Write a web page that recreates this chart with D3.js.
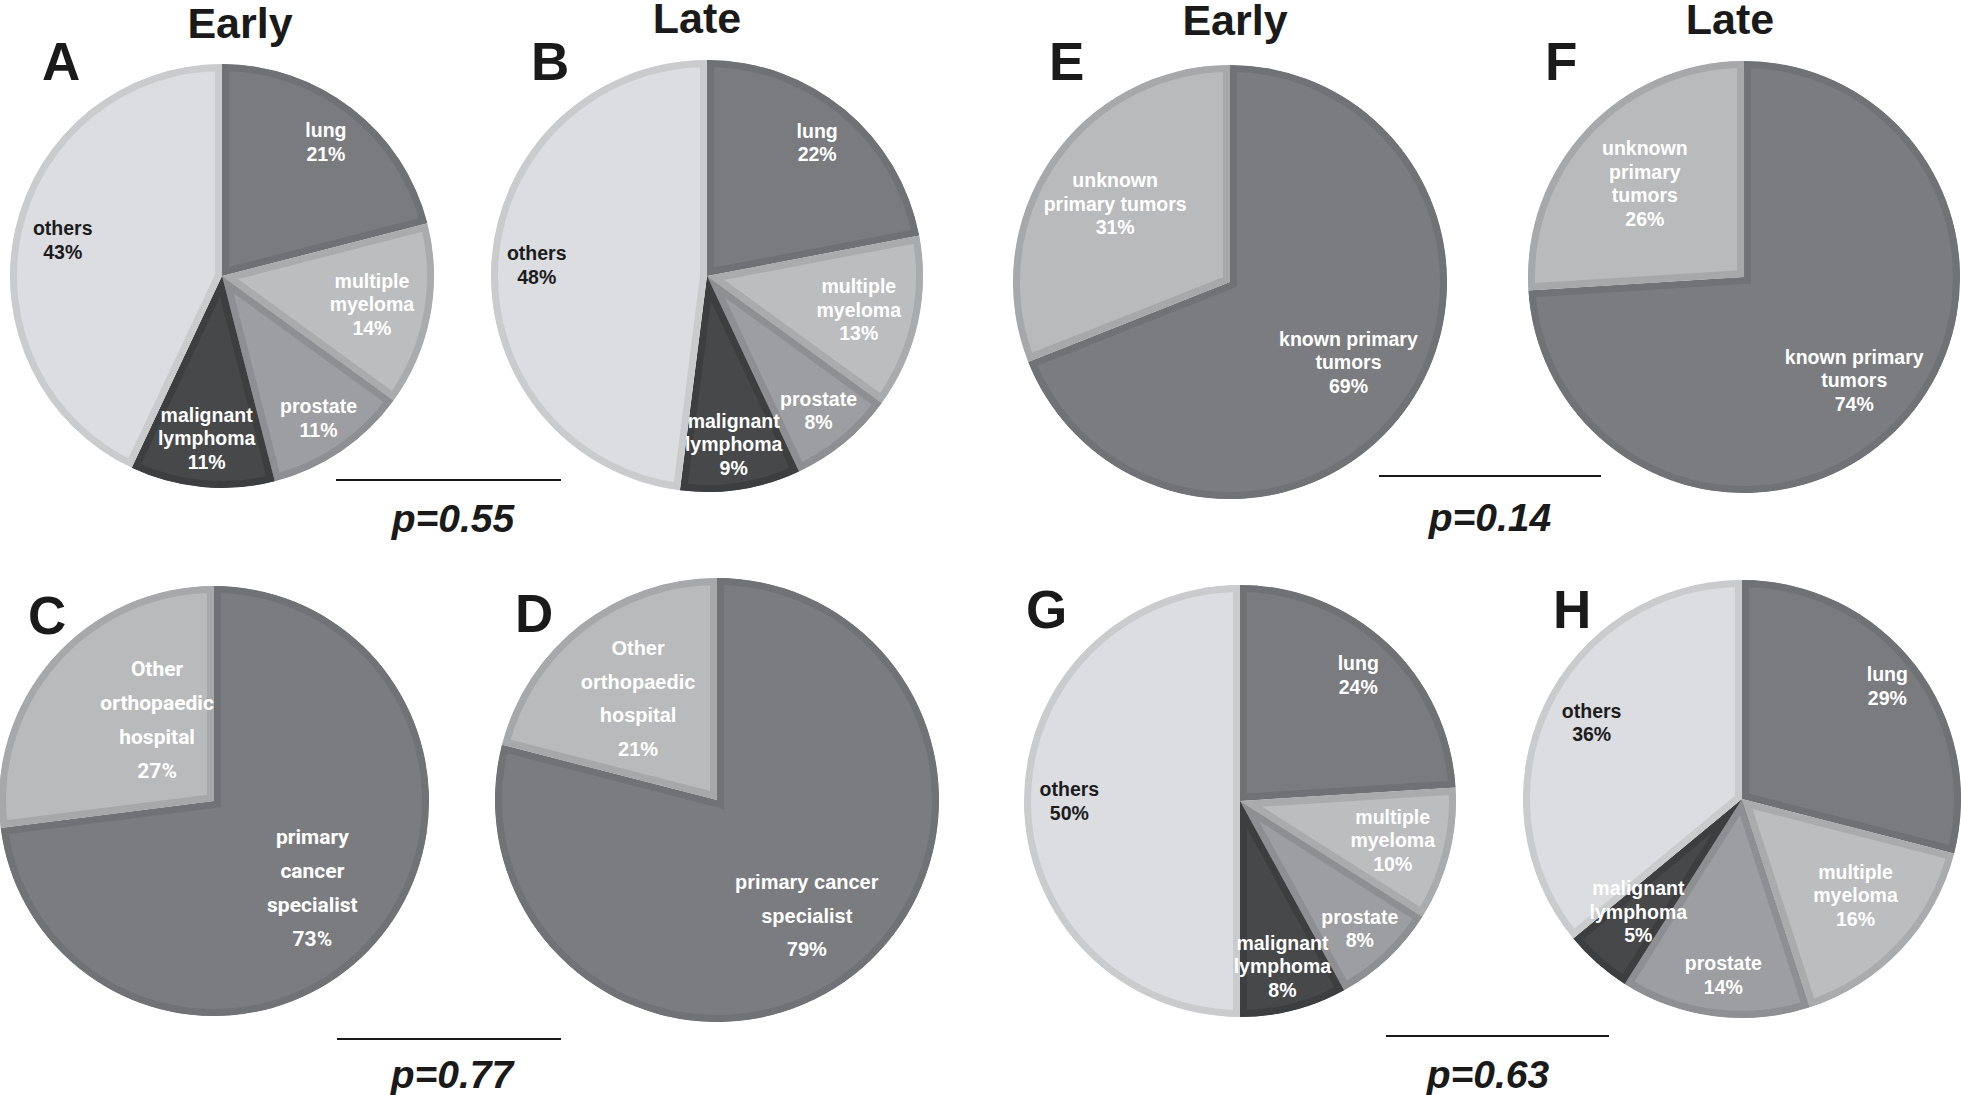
<!DOCTYPE html>
<html>
<head>
<meta charset="utf-8">
<script src="https://cdn.jsdelivr.net/npm/d3@7"></script>
<style>
  html, body { margin: 0; padding: 0; background: #ffffff; }
  svg { display: block; }
</style>
</head>
<body>
<svg id="chart" width="1961" height="1095"></svg>
<script>
// ---------------- DATA ----------------
const siteCategories = ["lung", "multiple myeloma", "prostate", "malignant lymphoma", "others"];
const siteEarlyA = [21, 14, 11, 11, 43];
const siteLateB  = [22, 13, 8, 9, 48];
const siteEarlyG = [24, 10, 8, 8, 50];
const siteLateH  = [29, 16, 14, 5, 36];

const referralCategories = ["primary cancer specialist", "Other orthopaedic hospital"];
const referralEarlyC = [73, 27];
const referralLateD  = [79, 21];

const primaryCategories = ["known primary tumors", "unknown primary tumors"];
const primaryEarlyE = [69, 31];
const primaryLateF  = [74, 26];

const groupTitles = ["Early", "Late", "Early", "Late"];
const panelLetters = ["A", "B", "C", "D", "E", "F", "G", "H"];
const pValues = ["p=0.55", "p=0.77", "p=0.14", "p=0.63"];

// ---------------- STYLE / LAYOUT ----------------
const fills = {
  "lung": ["#7a7b7f", "#707175"],
  "multiple myeloma": ["#bcbdbf", "#aaabad"],
  "prostate": ["#9d9ea1", "#8e8f92"],
  "malignant lymphoma": ["#47484a", "#3d3e40"],
  "others": ["#dcdde0", "#cacbcd"],
  "known primary tumors": ["#7b7c80", "#717276"],
  "unknown primary tumors": ["#b9babc", "#a7a8aa"],
  "primary cancer specialist": ["#7b7c80", "#717276"],
  "Other orthopaedic hospital": ["#b9babc", "#a7a8aa"]
};
const darkText = { "others": true };

const siteWrap = {
  "lung": ["lung"], "multiple myeloma": ["multiple", "myeloma"], "prostate": ["prostate"],
  "malignant lymphoma": ["malignant", "lymphoma"], "others": ["others"]
};

const panels = [
  { letter: panelLetters[0], cats: siteCategories, vals: siteEarlyA, cx: 222, cy: 276, r: 212,
    lf: [0.80, 0.72, 0.81, 0.77, 0.77], wrap: siteWrap, font: "Liberation Sans", fs: 19.5, lh: 23.5,
    lx: 42, ly: 80 },
  { letter: panelLetters[1], cats: siteCategories, vals: siteLateB, cx: 707, cy: 276, r: 216,
    lf: [0.80, 0.72, 0.81, 0.79, 0.79], wrap: siteWrap, font: "Liberation Sans", fs: 19.5, lh: 23.5,
    lx: 531, ly: 80 },
  { letter: panelLetters[2], cats: referralCategories, vals: referralEarlyC, cx: 214, cy: 801, r: 215,
    lf: [0.61, 0.46], wrap: { "primary cancer specialist": ["primary", "cancer", "specialist"],
      "Other orthopaedic hospital": ["Other", "orthopaedic", "hospital"] },
    font: "Roboto", fs: 21, lh: 34, lx: 28, ly: 634, angOff: [0, 0.235] },
  { letter: panelLetters[3], cats: referralCategories, vals: referralLateD, cx: 717, cy: 800, r: 222,
    lf: [0.66, 0.58], wrap: { "primary cancer specialist": ["primary cancer", "specialist"],
      "Other orthopaedic hospital": ["Other", "orthopaedic", "hospital"] },
    font: "Liberation Sans", fs: 20, lh: 33.5, lx: 515, ly: 632 },
  { letter: panelLetters[4], cats: primaryCategories, vals: primaryEarlyE, cx: 1230, cy: 282, r: 217,
    lf: [0.66, 0.64], wrap: { "known primary tumors": ["known primary", "tumors"],
      "unknown primary tumors": ["unknown", "primary tumors"] },
    font: "Liberation Sans", fs: 19.5, lh: 23.5, lx: 1049, ly: 80 },
  { letter: panelLetters[5], cats: primaryCategories, vals: primaryLateF, cx: 1744, cy: 277, r: 216,
    lf: [0.70, 0.63], wrap: { "known primary tumors": ["known primary", "tumors"],
      "unknown primary tumors": ["unknown", "primary", "tumors"] },
    font: "Liberation Sans", fs: 19.5, lh: 23.5, lx: 1545, ly: 80 },
  { letter: panelLetters[6], cats: siteCategories, vals: siteEarlyG, cx: 1240, cy: 801, r: 216,
    lf: [0.80, 0.73, 0.81, 0.79, 0.79], wrap: siteWrap, font: "Liberation Sans", fs: 19.5, lh: 23.5,
    lx: 1026, ly: 628 },
  { letter: panelLetters[7], cats: siteCategories, vals: siteLateH, cx: 1742, cy: 799, r: 219,
    lf: [0.84, 0.68, 0.81, 0.70, 0.77], wrap: siteWrap, font: "Liberation Sans", fs: 19.5, lh: 23.5,
    lx: 1553, ly: 628, angOff: [0, -0.05, -0.02, 0.02, 0.03] }
];

const titlePos = [ { x: 240, y: 38 }, { x: 697, y: 33 }, { x: 1235, y: 35 }, { x: 1730, y: 34 } ];
const pPos = [
  { x1: 336, x2: 561, ly: 480, tx: 453, ty: 532 },
  { x1: 337, x2: 561, ly: 1039, tx: 452, ty: 1088 },
  { x1: 1379, x2: 1601, ly: 476, tx: 1490, ty: 531 },
  { x1: 1386, x2: 1609, ly: 1036, tx: 1488, ty: 1088 }
];

// ---------------- DRAW ----------------
const svg = d3.select("#chart");
const defs = svg.append("defs");
const pie = d3.pie().sort(null).value(d => d.v).startAngle(0).endAngle(2 * Math.PI);
const border = 7;

panels.forEach((p) => {
  const g = svg.append("g").attr("transform", `translate(${p.cx},${p.cy})`);
  const data = p.cats.map((c, i) => ({ c, v: p.vals[i] }));
  const arcs = pie(data);
  const arc = d3.arc().innerRadius(0).outerRadius(p.r);

  arcs.forEach((a, i) => {
    defs.append("clipPath").attr("id", `clip-${p.letter}-${i}`)
      .append("path").attr("d", arc(a));
  });

  g.selectAll("path.slice").data(arcs).join("path")
    .attr("class", "slice")
    .attr("d", arc)
    .attr("clip-path", (a, i) => `url(#clip-${p.letter}-${i})`)
    .attr("fill", a => fills[a.data.c][0])
    .attr("stroke", a => fills[a.data.c][1])
    .attr("stroke-width", border * 2)
    .attr("stroke-linejoin", "miter");

  // labels
  arcs.forEach((a, i) => {
    const off = p.angOff ? p.angOff[i] : 0;
    const mid = (a.startAngle + a.endAngle) / 2 + off;
    const rr = p.r * p.lf[i];
    const x = rr * Math.sin(mid), y = -rr * Math.cos(mid);
    const lines = p.wrap[a.data.c].concat([a.data.v + "%"]);
    const t = g.append("text")
      .attr("text-anchor", "middle")
      .attr("font-family", p.font + ", Arial, sans-serif")
      .attr("font-weight", "bold")
      .attr("font-size", p.fs)
      .attr("fill", darkText[a.data.c] ? "#1c1c1e" : "#ffffff");
    lines.forEach((ln, k) => {
      t.append("tspan")
        .attr("x", x)
        .attr("y", y + (k - (lines.length - 1) / 2) * p.lh)
        .attr("dy", "0.35em")
        .text(ln);
    });
  });

  // panel letter
  svg.append("text")
    .attr("x", p.lx).attr("y", p.ly)
    .attr("font-family", "Liberation Sans, Arial, sans-serif")
    .attr("font-weight", "bold")
    .attr("font-size", 53)
    .attr("fill", "#1a1a1a")
    .text(p.letter);
});

// titles
groupTitles.forEach((t, i) => {
  svg.append("text")
    .attr("x", titlePos[i].x).attr("y", titlePos[i].y)
    .attr("text-anchor", "middle")
    .attr("font-family", "Liberation Sans, Arial, sans-serif")
    .attr("font-weight", "bold")
    .attr("font-size", 43)
    .attr("fill", "#1a1a1a")
    .text(t);
});

// p-values
pValues.forEach((pv, i) => {
  const q = pPos[i];
  svg.append("line")
    .attr("x1", q.x1).attr("x2", q.x2).attr("y1", q.ly).attr("y2", q.ly)
    .attr("stroke", "#1a1a1a").attr("stroke-width", 2);
  svg.append("text")
    .attr("x", q.tx).attr("y", q.ty)
    .attr("text-anchor", "middle")
    .attr("font-family", "Liberation Sans, Arial, sans-serif")
    .attr("font-weight", "bold")
    .attr("font-style", "italic")
    .attr("font-size", 39)
    .attr("fill", "#1a1a1a")
    .text(pv);
});
</script>
</body>
</html>
